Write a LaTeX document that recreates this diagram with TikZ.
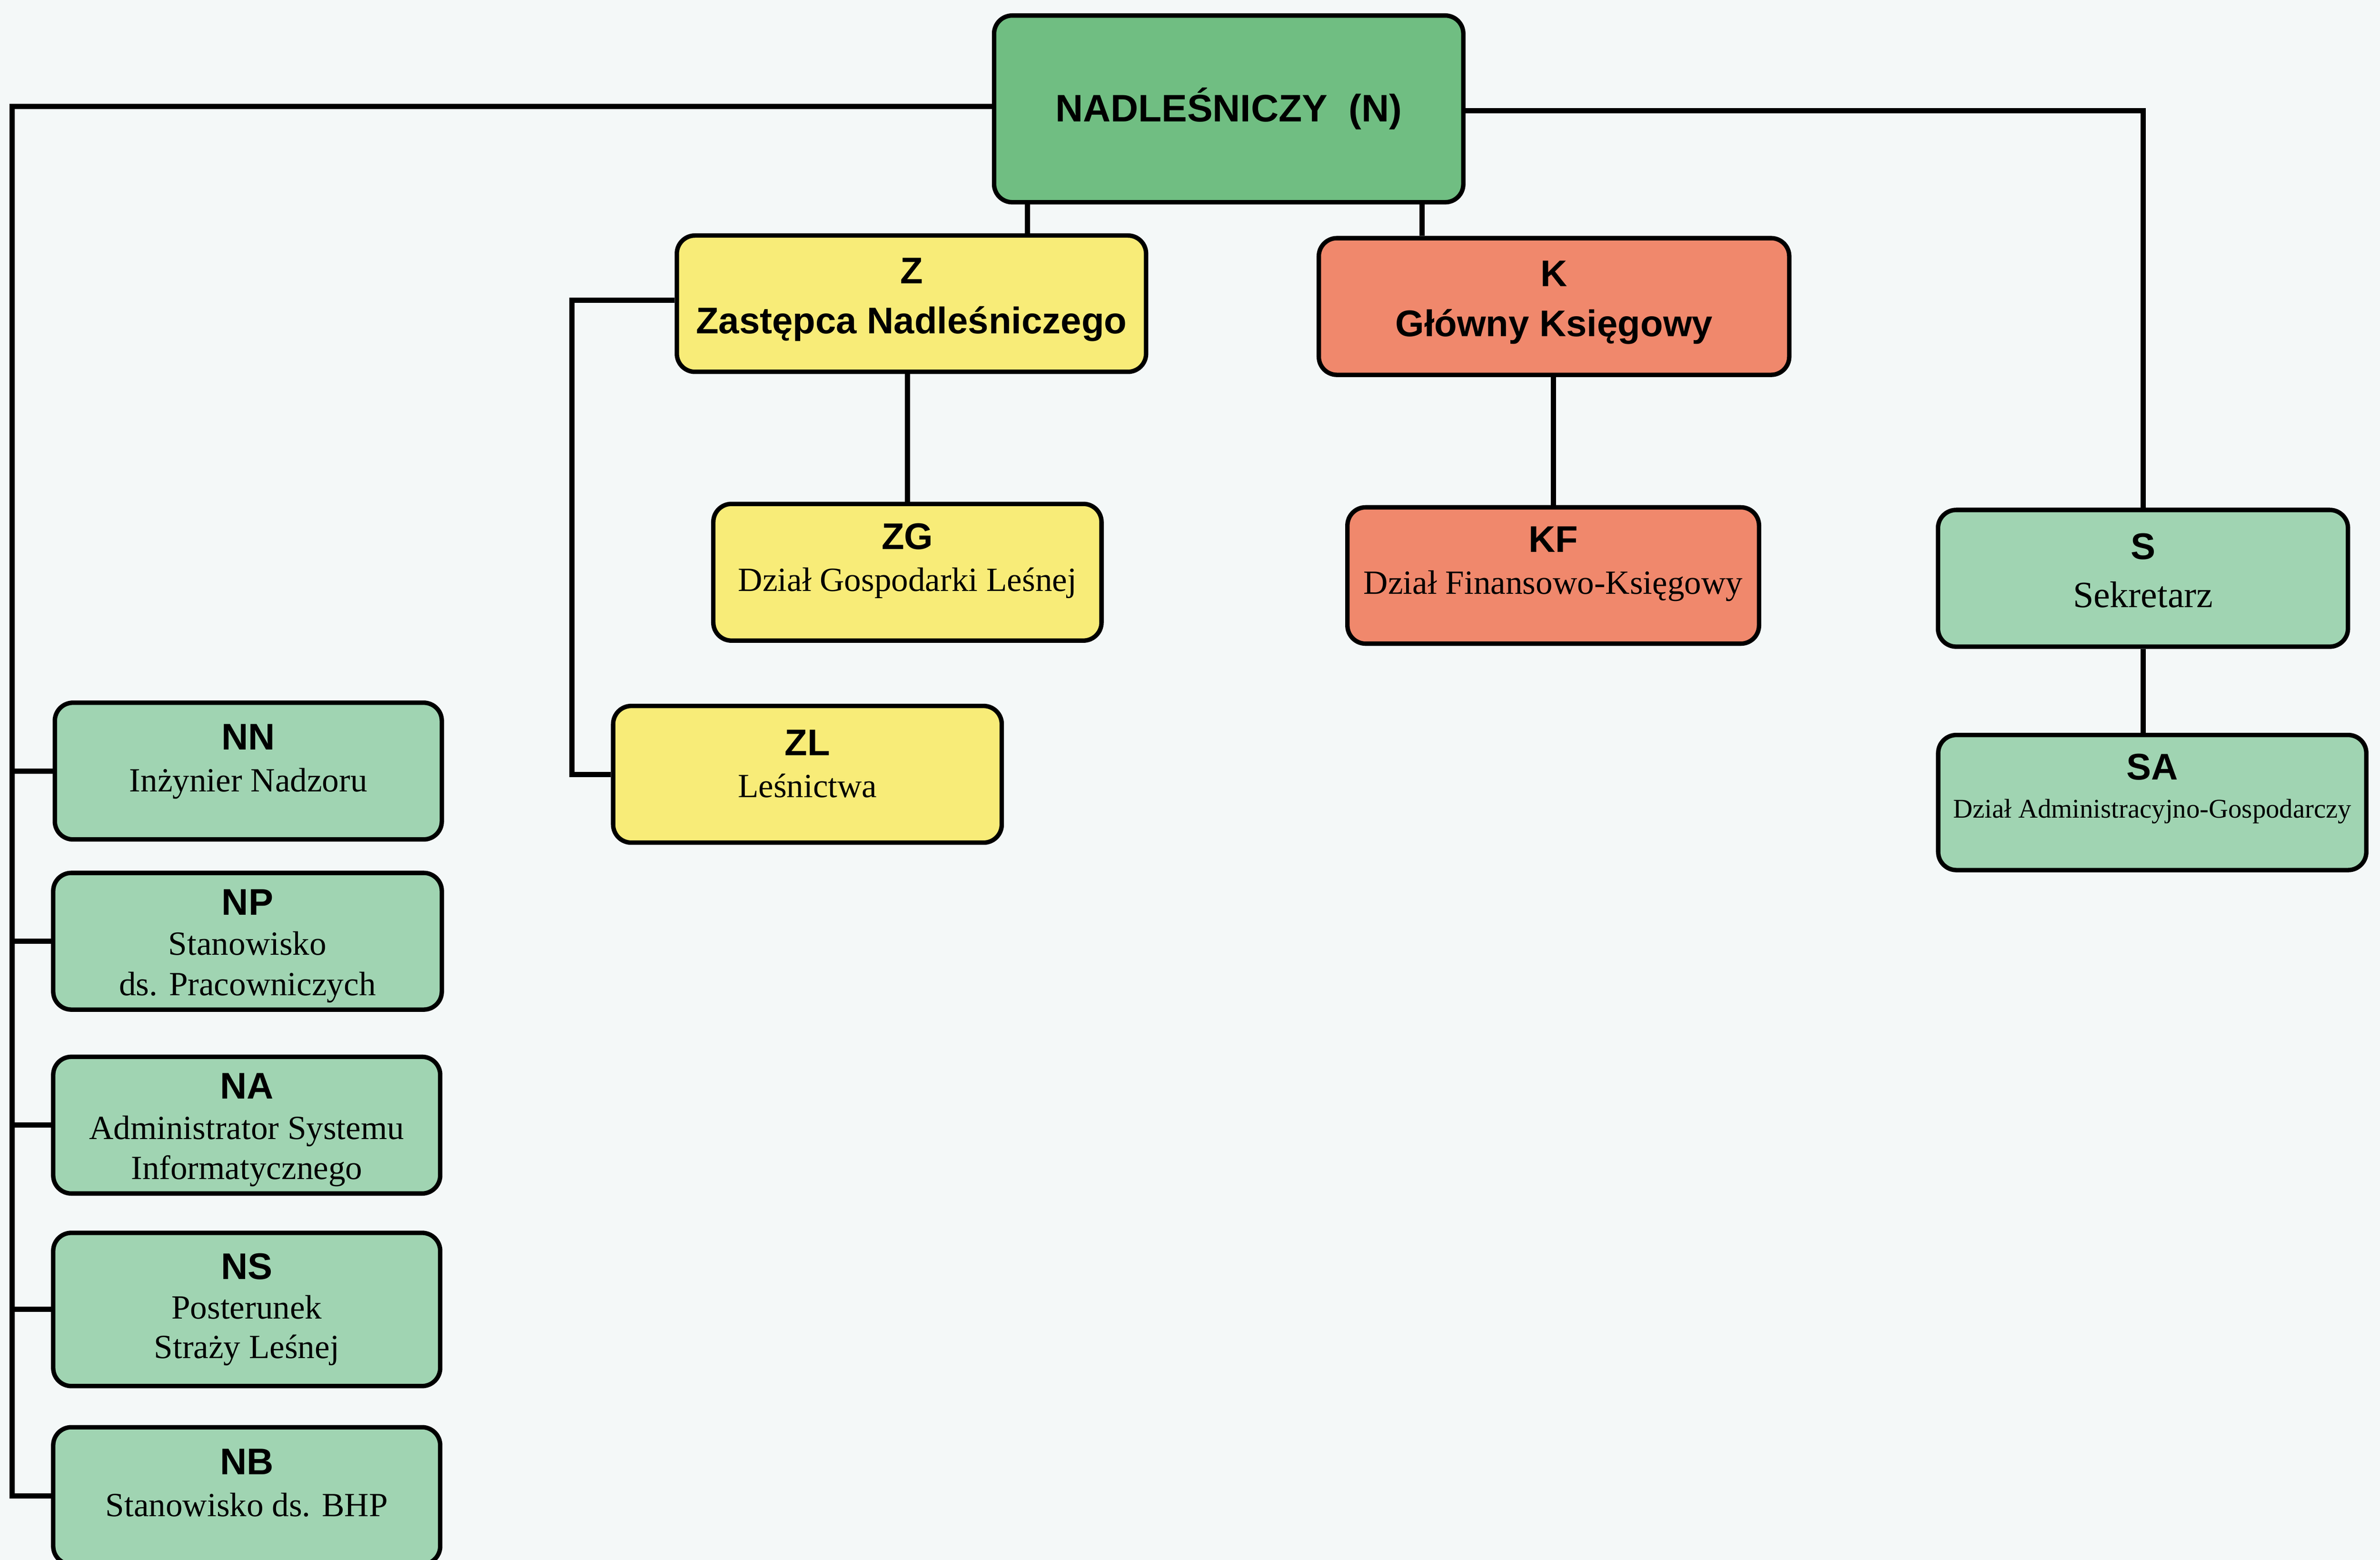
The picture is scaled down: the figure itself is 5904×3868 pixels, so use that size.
\documentclass[tikz,border=0pt]{standalone}
\usepackage{fontspec}
\setmainfont{Liberation Serif}
\newfontfamily\sansf{Liberation Sans}
\definecolor{bgc}{RGB}{244,248,248}
\definecolor{gN}{RGB}{112,190,130}
\definecolor{gL}{RGB}{160,212,178}
\definecolor{yel}{RGB}{248,236,120}
\definecolor{sal}{RGB}{240,136,108}
\newcommand\hdf{\sansf\bfseries\fontsize{92}{100}\selectfont}
\tikzset{
  box/.style={draw=black, line width=11pt, rounded corners=45pt, inner sep=0pt},
  wire/.style={draw=black, line width=13pt},
  lbl/.style={align=center, inner sep=0pt, font=\rmfamily\fontsize{84}{104}\selectfont},
  toplbl/.style={align=center, inner sep=0pt, font=\sansf\bfseries\fontsize{92}{124}\selectfont},
}
\begin{document}
\begin{tikzpicture}[x=1pt,y=-1pt]
\fill[bgc] (0,0) rectangle (5904,3868);
\useasboundingbox (0,0) rectangle (5904,3868);

% boxes
\node[box, fill=gN, minimum width=1164pt, minimum height=463pt] (N) at (3048,270) {};
\node[box, fill=yel, minimum width=1164pt, minimum height=338pt] (Z) at (2261,753) {};
\node[box, fill=sal, minimum width=1167pt, minimum height=339pt] (K) at (3855,760) {};
\node[box, fill=yel, minimum width=963pt, minimum height=339pt] (ZG) at (2251,1419) {};
\node[box, fill=sal, minimum width=1021pt, minimum height=338pt] (KF) at (3853,1427) {};
\node[box, fill=gL, minimum width=1017pt, minimum height=339pt] (S) at (5316,1434) {};
\node[box, fill=gL, minimum width=1062pt, minimum height=335pt] (SA) at (5339,1990) {};
\node[box, fill=yel, minimum width=964pt, minimum height=339pt] (ZL) at (2003,1920) {};
\node[box, fill=gL, minimum width=960pt, minimum height=339pt] (NN) at (616,1912) {};
\node[box, fill=gL, minimum width=964pt, minimum height=339pt] (NP) at (614,2334) {};
\node[box, fill=gL, minimum width=960pt, minimum height=339pt] (NA) at (612,2790) {};
\node[box, fill=gL, minimum width=960pt, minimum height=380pt] (NS) at (612,3247) {};
\node[box, fill=gL, minimum width=960pt, minimum height=340pt] (NB) at (612,3709) {};

% connectors
\coordinate (LT) at (30,264);
\draw[wire] (N.west |- LT) -- (LT) |- (NB.west);
\foreach \b in {NN,NP,NA,NS} \draw[wire] (LT |- \b.west) -- (\b.west);
\coordinate (RT) at (5316,275);
\draw[wire] (N.east |- RT) -- (RT) -- (S.north);
\coordinate (zx) at (2549,0);
\draw[wire] (N.south -| zx) -- (Z.north -| zx);
\coordinate (kx) at (3528,0);
\draw[wire] (N.south -| kx) -- (K.north -| kx);
\draw[wire] (ZG.north |- Z.south) -- (ZG.north);
\coordinate (ZLT) at (1419,745);
\draw[wire] (Z.west |- ZLT) -- (ZLT) |- (ZL.west);
\draw[wire] (KF.north |- K.south) -- (KF.north);
\draw[wire] (S.south) -- (S.south |- SA.north);

% texts
\node[inner sep=0pt, font=\sansf\bfseries\fontsize{95}{110}\selectfont] (Nt) at (N.center) {NADLEŚNICZY\ \ (N)};
\node[toplbl] (Zt) at ([yshift=10pt]Z.center) {Z\\Zastępca Nadleśniczego};
\node[toplbl] (Kt) at ([yshift=10pt]K.center) {K\\Główny Księgowy};
\node[lbl] (ZGt) at ([yshift=28pt]ZG.center) {{\hdf ZG}\\Dział Gospodarki Leśnej};
\node[lbl] (KFt) at ([yshift=28pt]KF.center) {{\hdf KF}\\Dział Finansowo-Księgowy};
\node[lbl, font=\rmfamily\fontsize{92}{120}\selectfont] (St) at ([yshift=19pt]S.center) {{\hdf S}\\Sekretarz};
\node[lbl, font=\rmfamily\fontsize{67}{95}\selectfont] (SAt) at ([yshift=34pt]SA.center) {{\hdf SA}\\Dział Administracyjno-Gospodarczy};
\node[lbl] (ZLt) at ([yshift=26pt]ZL.center) {{\hdf ZL}\\Leśnictwa};
\node[lbl] (NNt) at ([yshift=24pt]NN.center) {{\hdf NN}\\Inżynier Nadzoru};
\node[lbl, font=\rmfamily\fontsize{84}{100}\selectfont] (NPt) at ([yshift=-12pt]NP.center) {{\hdf NP}\\Stanowisko\\ds. Pracowniczych};
\node[lbl, font=\rmfamily\fontsize{84}{100}\selectfont] (NAt) at ([yshift=-12pt]NA.center) {{\hdf NA}\\Administrator Systemu\\Informatycznego};
\node[lbl, font=\rmfamily\fontsize{84}{98}\selectfont] (NSt) at (NS.center) {{\hdf NS}\\Posterunek\\Straży Leśnej};
\node[lbl] (NBt) at ([yshift=32pt]NB.center) {{\hdf NB}\\Stanowisko ds. BHP};
\end{tikzpicture}
\end{document}
